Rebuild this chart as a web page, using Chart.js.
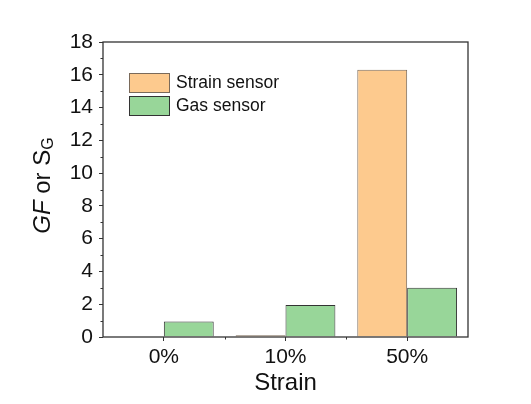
<!DOCTYPE html>
<html>
<head>
<meta charset="utf-8">
<script src="https://cdn.jsdelivr.net/npm/chart.js@4"></script>
<style>
  html, body { margin: 0; padding: 0; background: #fff; }
  #wrap { width: 531px; height: 404px; }
</style>
</head>
<body>
<div id="wrap"><canvas id="GfChart"></canvas></div>
<script>
// data
const strainLabels = ['0%', '10%', '50%'];
const strainSensor = [0, 0.1, 16.3];
const gasSensor = [0.95, 1.95, 3.0];
const yTicks = { min: 0, max: 18, step: 2, minor: 1 };

const FONT = '"Liberation Sans", Arial, sans-serif';
const AXIS = '#333';

// frame, minor ticks, y title with subscript, legend
const extras = {
    id: 'extras',
    afterDraw(chart) {
        const c = chart.ctx;
        const a = chart.chartArea;
        const x = chart.scales.x, y = chart.scales.y;
        c.save();
        c.strokeStyle = AXIS;
        c.lineWidth = 1.3;
        c.strokeRect(a.left, a.top, a.right - a.left, a.bottom - a.top);

        // minor ticks on y (outward, short)
        c.lineWidth = 1;
        for (let v = yTicks.min + yTicks.minor; v < yTicks.max; v += yTicks.step) {
            const py = Math.round(y.getPixelForValue(v)) + 0.5;
            c.beginPath();
            c.moveTo(a.left, py);
            c.lineTo(a.left - 2.5, py);
            c.stroke();
        }
        // minor ticks on x, at category boundaries
        for (let i = 0; i < strainLabels.length - 1; i++) {
            const px = Math.round((x.getPixelForValue(i) + x.getPixelForValue(i + 1)) / 2) + 0.5;
            c.beginPath();
            c.moveTo(px, a.bottom);
            c.lineTo(px, a.bottom + 2.5);
            c.stroke();
        }

        // y title: GF or S_G
        c.fillStyle = '#111';
        c.translate(43, (a.top + a.bottom) / 2 - 4);
        c.rotate(-Math.PI / 2);
        c.textBaseline = 'middle';
        const parts = [
            { t: 'GF', f: 'italic 24px ' + FONT, dy: 0 },
            { t: ' or S', f: '24px ' + FONT, dy: 0 },
            { t: 'G', f: '16px ' + FONT, dy: 6 }
        ];
        let w = 0;
        parts.forEach(p => { c.font = p.f; w += c.measureText(p.t).width; });
        let cx = -w / 2;
        parts.forEach(p => {
            c.font = p.f;
            c.fillText(p.t, cx, p.dy);
            cx += c.measureText(p.t).width;
        });
        c.restore();

        // legend
        c.save();
        c.font = '17.5px ' + FONT;
        c.textBaseline = 'middle';
        chart.data.datasets.forEach((ds, i) => {
            const bx = a.left + 26, by = a.top + 31 + i * 23;
            c.fillStyle = ds.backgroundColor;
            c.fillRect(bx, by, 41, 20);
            c.strokeStyle = ds.borderColor;
            c.lineWidth = 1;
            c.strokeRect(bx + 0.5, by + 0.5, 40, 19);
            c.fillStyle = '#111';
            c.fillText(ds.label, bx + 47, by + 10);
        });
        c.restore();
    }
};

const ctx = document.getElementById('GfChart').getContext('2d');
const GfChart = new Chart(ctx, {
    type: 'bar',
    data: {
        labels: strainLabels,
        datasets: [
            {
                label: 'Strain sensor',
                data: strainSensor,
                backgroundColor: '#FDCA8E',
                borderColor: '#7a6a5a',
                borderWidth: 1,
                categoryPercentage: 0.82,
                barPercentage: 1
            },
            {
                label: 'Gas sensor',
                data: gasSensor,
                backgroundColor: '#98D699',
                borderColor: '#333',
                borderWidth: 1,
                categoryPercentage: 0.82,
                barPercentage: 1
            }
        ]
    },
    options: {
        responsive: true,
        maintainAspectRatio: false,
        animation: false,
        layout: { padding: { left: 0, right: 63, top: 42, bottom: 0 } },
        plugins: {
            legend: { display: false },
            tooltip: { enabled: false }
        },
        scales: {
            x: {
                afterFit(s) { s.height = 67; },
                grid: { drawOnChartArea: false, offset: false, tickLength: 4, color: AXIS, tickWidth: 1 },
                border: { display: false },
                ticks: { color: '#111', padding: 4, font: { family: FONT, size: 21 } },
                title: {
                    display: true,
                    text: 'Strain',
                    color: '#111',
                    font: { family: FONT, size: 24 },
                    padding: { top: 0, bottom: 6 }
                }
            },
            y: {
                min: yTicks.min,
                max: yTicks.max,
                afterFit(s) { s.width = 103; },
                grid: { drawOnChartArea: false, tickLength: 4, color: AXIS },
                border: { display: false },
                ticks: {
                    stepSize: yTicks.step,
                    color: '#111',
                    padding: 6,
                    font: { family: FONT, size: 21 }
                }
            }
        }
    },
    plugins: [extras]
});
</script>
</body>
</html>
